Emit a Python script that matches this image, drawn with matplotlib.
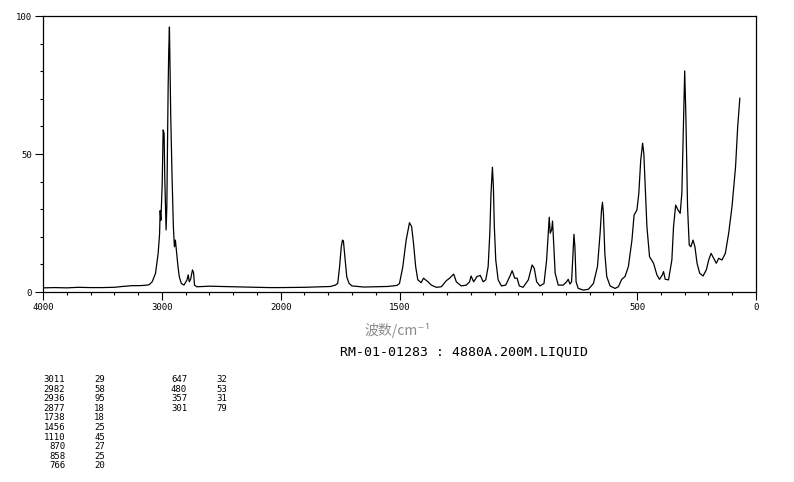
import numpy as np
import matplotlib
matplotlib.use("Agg")
import matplotlib.pyplot as plt
from matplotlib.ticker import FixedLocator, FixedFormatter

# ---------------- data ----------------
wavenumber = [
    4000, 3900, 3800, 3700, 3600, 3500, 3400, 3333, 3250, 3192, 3150, 3108,
    3081, 3053, 3031, 3019, 3014, 3008, 2997, 2989, 2981, 2975, 2964, 2958,
    2947, 2942, 2936, 2931, 2925, 2914, 2903, 2894, 2886, 2878, 2864, 2853,
    2836, 2814, 2789, 2778, 2769, 2758, 2742, 2733, 2725, 2706, 2600, 2500,
    2400, 2300, 2200, 2100, 2000, 1900, 1820, 1790, 1770, 1760, 1752, 1745,
    1740, 1736, 1730, 1722, 1712, 1700, 1650, 1600, 1550, 1510,
    1500, 1486, 1472, 1458, 1449, 1441, 1432, 1423, 1409, 1399, 1390, 1380,
    1366, 1345, 1324, 1303, 1289, 1272, 1261, 1240, 1219, 1205, 1199, 1188,
    1174, 1160, 1148, 1137, 1127, 1120, 1115, 1109, 1105, 1101, 1095, 1085,
    1071, 1053, 1036, 1026, 1015, 1005, 996, 980, 958, 942, 933, 923,
    909, 892, 881, 874, 870, 866, 860, 856, 852, 845, 832, 811,
    797, 790, 783, 776, 770, 766, 762, 757, 748, 726, 705, 684,
    667, 656, 650, 646, 642, 636, 628, 614, 593, 579, 565, 551,
    537, 522, 513, 501, 493, 485, 477, 472, 466, 459, 448, 431,
    417, 406, 394, 389, 382, 368, 354, 347, 338, 330, 319, 312,
    306, 300, 295, 288, 281, 274, 265, 257, 248, 237, 223, 209,
    199, 189, 178, 167, 157, 143, 129, 115, 101, 86, 77, 68,
]
intensity = [
    1.5, 1.6, 1.5, 1.7, 1.6, 1.6, 1.7, 2.0, 2.3, 2.3, 2.4, 2.6,
    3.7, 6.8, 14.0, 21.0, 29.5, 26.0, 39.0, 58.7, 57.5, 40.6, 22.5, 31.0,
    74.0, 87.0, 96.0, 80.0, 63.5, 41.8, 23.7, 16.4, 18.8, 15.2, 9.2, 5.5,
    3.1, 2.5, 4.3, 6.2, 3.7, 4.6, 8.0, 7.0, 2.5, 1.9, 2.1, 2.0,
    1.9, 1.8, 1.7, 1.6, 1.6, 1.7, 1.9, 2.0, 2.5, 3.1, 9.2, 16.4,
    18.8, 18.5, 12.8, 5.5, 3.1, 2.2, 1.8, 1.9, 2.0, 2.4,
    3.1, 9.2, 18.8, 25.1, 23.7, 17.6, 9.2, 4.4, 3.4, 5.0, 4.4, 3.7,
    2.5, 1.7, 1.9, 4.1, 5.0, 6.5, 3.7, 2.2, 2.5, 3.7, 5.8, 3.7,
    5.6, 6.0, 3.7, 4.4, 9.2, 21.3, 35.8, 45.2, 38.2, 23.7, 11.6, 4.4,
    2.2, 2.5, 5.6, 7.7, 5.0, 5.0, 2.2, 1.7, 4.4, 9.8, 8.6, 3.7,
    2.2, 3.1, 11.6, 21.3, 27.1, 21.3, 22.5, 25.7, 18.8, 6.8, 2.5, 2.5,
    3.7, 4.6, 2.9, 3.7, 14.0, 20.9, 16.4, 3.7, 1.3, 0.7, 1.0, 3.1,
    9.2, 21.3, 29.7, 32.5, 28.5, 14.0, 5.6, 2.2, 1.3, 1.9, 4.6, 5.6,
    9.2, 18.8, 27.9, 29.7, 35.8, 47.8, 53.9, 50.2, 38.2, 23.7, 12.8, 10.4,
    6.2, 4.6, 6.2, 7.4, 4.6, 4.4, 11.6, 23.7, 31.5, 30.0, 28.5, 35.8,
    57.5, 80.1, 63.5, 30.9, 17.0, 16.4, 18.8, 16.4, 10.4, 6.8, 5.8, 8.0,
    11.6, 14.0, 12.2, 10.4, 12.2, 11.6, 14.0, 21.3, 30.9, 45.4, 59.9, 70.2,
]

x_major_ticks = [4000, 3000, 2000, 1500, 500, 0]
x_major_labels = ["4000", "3000", "2000", "1500", "500", "0"]
y_major_ticks = [0, 50, 100]
y_major_labels = ["0", "50", "100"]

peak_positions = ["3011", "2982", "2936", "2877", "1738", "1456", "1110", "870", "858", "766",
                  "647", "480", "357", "301"]
peak_heights = ["29", "58", "95", "18", "18", "25", "45", "27", "25", "20",
                "32", "53", "31", "79"]

x_label = "波数/cm⁻¹"
sample_label = "RM-01-01283 : 4880A.200M.LIQUID"

# ---------------- figure ----------------
W, H = 794, 482
fig = plt.figure(figsize=(W / 100, H / 100), dpi=100)
ax = fig.add_axes([43 / W, 1 - 292 / H, (756 - 43) / W, (292 - 16) / H])


def fwd(w):
    w = np.asarray(w, dtype=float)
    return np.where(w > 2000, 2000 + (w - 2000) / 2.0, w)


def inv(p):
    p = np.asarray(p, dtype=float)
    return np.where(p > 2000, 2000 + (p - 2000) * 2.0, p)


ax.set_xscale("function", functions=(fwd, inv))
ax.plot(wavenumber, intensity, color="black", lw=0.9)
ax.set_xlim(4000, 0)
ax.set_ylim(0, 100)

mono = "DejaVu Sans Mono"
ax.xaxis.set_major_locator(FixedLocator(x_major_ticks))
ax.xaxis.set_major_formatter(FixedFormatter(x_major_labels))
minor_x = list(range(4000, 2000, -200)) + list(range(2000, -1, -100))
ax.xaxis.set_minor_locator(FixedLocator(minor_x))
ax.yaxis.set_major_locator(FixedLocator(y_major_ticks))
ax.yaxis.set_major_formatter(FixedFormatter(y_major_labels))
ax.yaxis.set_minor_locator(FixedLocator(list(range(0, 101, 10))))

ax.tick_params(which="major", direction="out", length=6, width=0.8, labelsize=6.5, pad=2)
ax.tick_params(which="minor", direction="out", length=2.5, width=0.8)
for lab in ax.get_xticklabels() + ax.get_yticklabels():
    lab.set_family(mono)
for sp in ax.spines.values():
    sp.set_linewidth(0.9)

fig.text(398 / W, 1 - 331 / H, x_label, ha="center", va="center", color="#8a8a8a",
         fontsize=10, family=["Noto Sans CJK SC", "DejaVu Sans"])
fig.text(464 / W, 1 - 352 / H, sample_label, ha="center", va="center",
         fontsize=9.5, family=mono, color="black")

row_y0, row_dy = 379.5, 9.6
col_right = [65, 105, 187, 227]
for i, (pos, hgt) in enumerate(zip(peak_positions, peak_heights)):
    col = 0 if i < 10 else 2
    row = i if i < 10 else i - 10
    y = 1 - (row_y0 + row * row_dy) / H
    fig.text(col_right[col] / W, y, pos, ha="right", va="center", fontsize=6.5, family=mono)
    fig.text(col_right[col + 1] / W, y, hgt, ha="right", va="center", fontsize=6.5, family=mono)

fig.savefig("out.png", dpi=100)
